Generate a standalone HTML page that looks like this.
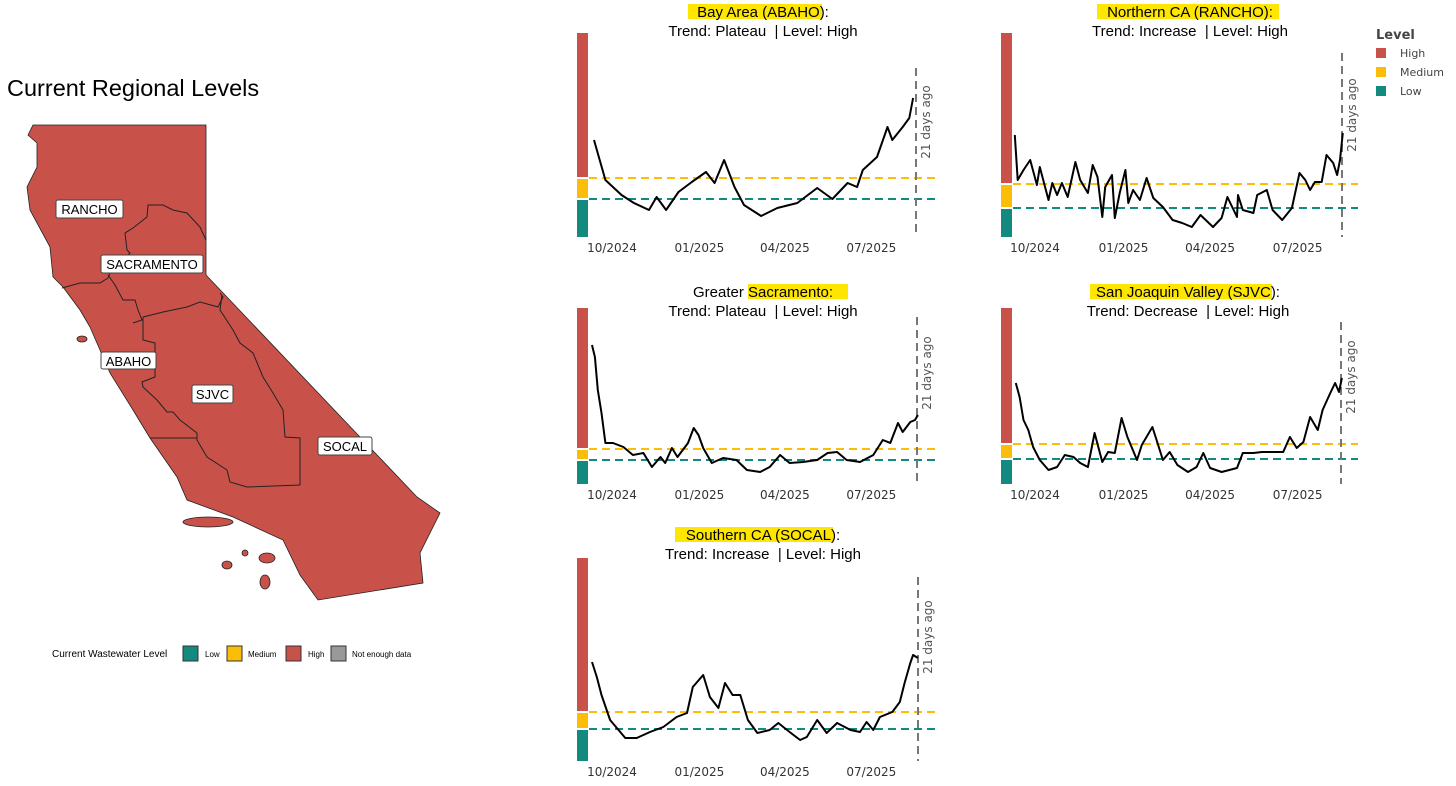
<!DOCTYPE html>
<html><head><meta charset="utf-8">
<style>
html,body{margin:0;padding:0;background:#fff;}
svg{display:block;font-family:"Liberation Sans",Arial,sans-serif;}
.tick{font-family:"DejaVu Sans",sans-serif;font-size:12px;fill:#333;}
.ttl{font-size:15px;fill:#000;}
.maplbl{font-size:13px;fill:#000;}
</style></head>
<body>
<svg id="root" width="1456" height="786" viewBox="0 0 1456 786">
  <text x="7" y="96" font-size="23.5" fill="#000">Current Regional Levels</text>
  <g stroke="#222" stroke-width="0.8" fill="#c8524a">
    <path d="M33,125 L206,125 L206,275 L417,497 L440,513 L420,553 L423,583 L318,600 L300,575 L283,540 L233,517 L187,500 L177,477 L150,438 L133,410 L110,373 L100,350 L90,327 L80,310 L63,287 L53,277 L50,247 L30,210 L27,187 L37,167 L37,143 L28,135 Z"/>
    <ellipse cx="208" cy="522" rx="25" ry="5"/>
    <ellipse cx="82" cy="339" rx="5" ry="3"/>
    <ellipse cx="245" cy="553" rx="3" ry="3"/>
    <ellipse cx="267" cy="558" rx="8" ry="5"/>
    <ellipse cx="227" cy="565" rx="5" ry="4"/>
    <ellipse cx="265" cy="582" rx="5" ry="7"/>
    <g fill="none" stroke="#222" stroke-width="1">
      <polyline points="206,240 200,227 187,213 173,210 163,205 148,205 147,217 133,228 125,233 127,250 130,253 110,273 108,278 100,283 80,283 62,288"/>
      <polyline points="108,275 115,285 123,300 135,300 138,310 142,320 133,323"/>
      <polyline points="143,317 163,312 187,307 200,302 218,307 223,297 220,293"/>
      <polyline points="222,295 220,310 233,330 240,343 253,353 263,377 273,393 283,410 285,437 300,438 300,485 247,487 230,482 227,470 207,457 197,440 197,433"/>
      <polyline points="197,433 180,420 173,412 167,412 157,400 143,387 142,382 155,377 155,343 143,340 143,317"/>
      <polyline points="150,438 197,438"/>
    </g>
  </g>
  <g>
    <g><rect x="56" y="200" width="67" height="18" rx="2" fill="#fff" stroke="#444"/><text class="maplbl" x="89.5" y="214" text-anchor="middle">RANCHO</text></g>
    <g><rect x="101" y="255" width="102" height="18" rx="2" fill="#fff" stroke="#444"/><text class="maplbl" x="152" y="269" text-anchor="middle">SACRAMENTO</text></g>
    <g><rect x="101" y="352" width="55" height="17" rx="2" fill="#fff" stroke="#444"/><text class="maplbl" x="128.5" y="366" text-anchor="middle">ABAHO</text></g>
    <g><rect x="192" y="385" width="41" height="18" rx="2" fill="#fff" stroke="#444"/><text class="maplbl" x="212.5" y="399" text-anchor="middle">SJVC</text></g>
    <g><rect x="318" y="437" width="54" height="18" rx="2" fill="#fff" stroke="#444"/><text class="maplbl" x="345" y="451" text-anchor="middle">SOCAL</text></g>
  </g>
  <g font-size="10">
    <text x="52" y="657">Current Wastewater Level</text>
    <rect x="183" y="646" width="15" height="15" fill="#128a80" stroke="#333"/>
    <text x="205" y="657" font-size="8">Low</text>
    <rect x="227" y="646" width="15" height="15" fill="#fbbd08" stroke="#333"/>
    <text x="248" y="657" font-size="8">Medium</text>
    <rect x="286" y="646" width="15" height="15" fill="#c8524a" stroke="#333"/>
    <text x="308" y="657" font-size="8">High</text>
    <rect x="331" y="646" width="15" height="15" fill="#999" stroke="#333"/>
    <text x="352" y="657" font-size="8">Not enough data</text>
  </g>
  <g font-family="DejaVu Sans, sans-serif">
    <text x="1376" y="39" font-size="13" font-weight="bold" fill="#444">Level</text>
    <rect x="1376" y="48" width="10" height="10" fill="#c8524a"/>
    <text x="1400" y="57" font-size="11" fill="#444">High</text>
    <rect x="1376" y="67" width="10" height="10" fill="#fbbd08"/>
    <text x="1400" y="76" font-size="11" fill="#444">Medium</text>
    <rect x="1376" y="86" width="10" height="10" fill="#128a80"/>
    <text x="1400" y="95" font-size="11" fill="#444">Low</text>
  </g>
  <g id="charts"></g>
</svg>
<script>
// Shared tick data
const tickDays = [0, 92, 182, 273];
const tickLabels = ["10/2024", "01/2025", "04/2025", "07/2025"];
// Bay Area (ABAHO)
const abahoDays = [-19,-7,10,23,39,47,57,70,84,99,108,118,129,139,157,174,195,216,232,248,258,264,279,290,295,306,313,317];
const abahoVals = [97,57,42,34,27,40,27,45,55,65,54,77,50,32,21,29,34,49,38,54,50,67,80,110,97,110,119,139];
const abahoThresholds = [38, 59];
// Northern CA (RANCHO)
const ranchoDays = [-21,-18,-12,-5,2,5,14,18,23,28,34,42,47,55,60,65,70,73,80,83,88,94,97,102,109,116,123,133,143,153,163,172,185,194,200,210,211,216,227,231,241,247,257,267,275,281,286,291,298,303,310,314,317,320];
const ranchoVals = [102,57,67,77,52,70,37,54,42,54,40,75,57,44,72,60,20,50,62,19,44,67,34,47,37,59,39,30,17,14,10,22,10,19,40,20,42,27,24,42,47,27,17,29,64,57,47,55,55,82,74,62,77,104];
const ranchoThresholds = [29, 53];
// Greater Sacramento
const sacDays = [-21,-18,-15,-11,-7,1,12,22,33,42,51,56,63,69,80,86,91,96,105,117,131,142,156,166,177,187,201,216,227,237,247,261,275,285,293,301,306,314,319,322];
const sacVals = [139,127,94,71,41,41,37,29,31,17,27,21,36,27,41,56,49,36,21,26,24,14,12,17,29,21,22,24,31,32,24,22,29,44,41,61,52,62,64,69];
const sacThresholds = [24, 35];
// San Joaquin Valley (SJVC)
const sjvcDays = [-20,-16,-12,-7,-2,5,14,23,31,40,47,55,62,70,76,83,90,96,106,111,122,127,133,140,148,159,168,175,182,194,210,216,227,236,247,258,265,272,279,286,294,299,307,312,316,319];
const sjvcVals = [101,87,64,54,37,24,14,17,29,27,21,17,51,22,32,31,66,47,24,39,57,42,24,32,19,12,17,31,16,12,16,31,31,32,32,32,47,36,42,67,54,74,91,101,92,106];
const sjvcThresholds = [25, 40];
// Southern CA (SOCAL)
const socalDays = [-21,-16,-11,-2,14,26,40,54,68,79,85,96,103,112,119,127,135,143,153,166,175,187,198,205,216,226,237,251,261,268,275,282,295,303,308,314,317,322];
const socalVals = [99,84,66,41,23,23,29,34,44,48,74,86,64,53,78,66,66,41,28,31,38,29,21,24,41,28,38,31,29,39,31,44,49,59,78,98,106,103];
const socalThresholds = [32, 49];

const panels = [
  {id:"abaho", pre:"", hl:"Bay Area (ABAHO)", post:":", trend:"Plateau", cx:763, ty:17, hlx:688, hlw:134, days:abahoDays, vals:abahoVals, th:abahoThresholds, barX:577, top:33, bottom:237, x0:612, k:0.95, lineEnd:937, vx:916, vtop:68, lblY:122, tickY:252},
  {id:"rancho", pre:"", hl:"Northern CA (RANCHO):", post:"", trend:"Increase", cx:1190, ty:17, hlx:1097, hlw:182, days:ranchoDays, vals:ranchoVals, th:ranchoThresholds, barX:1001, top:33, bottom:237, x0:1035, k:0.962, lineEnd:1358, vx:1342, vtop:53, lblY:115, tickY:252},
  {id:"sacramento", pre:"Greater ", hl:"Sacramento:", post:"", trend:"Plateau", cx:763, ty:297, hlx:748, hlw:100, days:sacDays, vals:sacVals, th:sacThresholds, barX:577, top:308, bottom:484, x0:612, k:0.95, lineEnd:937, vx:917, vtop:317, lblY:373, tickY:499},
  {id:"sjvc", pre:"", hl:"San Joaquin Valley (SJVC)", post:":", trend:"Decrease", cx:1188, ty:297, hlx:1090, hlw:182, days:sjvcDays, vals:sjvcVals, th:sjvcThresholds, barX:1001, top:308, bottom:484, x0:1035, k:0.962, lineEnd:1358, vx:1341, vtop:322, lblY:377, tickY:499},
  {id:"socal", pre:"", hl:"Southern CA (SOCAL)", post:":", trend:"Increase", cx:763, ty:540, hlx:675, hlw:158, days:socalDays, vals:socalVals, th:socalThresholds, barX:577, top:558, bottom:761, x0:612, k:0.95, lineEnd:937, vx:918, vtop:577, lblY:637, tickY:776}
];
const NS = "http://www.w3.org/2000/svg";
const root = document.getElementById("charts");
function mk(tag, attrs, parent){ const e=document.createElementNS(NS,tag); for(const a in attrs) e.setAttribute(a,attrs[a]); parent.appendChild(e); return e; }

panels.forEach(p => {
  const g = mk("g", {}, root);
  
  
  const xs = d => p.x0 + d * p.k;
  const ys = v => p.bottom - v;
  const hr = mk("rect", {x:p.hlx, y:p.ty-13, width:p.hlw, height:15, fill:"#ffe600"}, g);
  
  
  const t1 = mk("text", {x:p.cx, y:p.ty, "text-anchor":"middle", class:"ttl"}, g);
  
  
  t1.textContent = p.pre + p.hl + p.post;
  const t2 = mk("text", {x:p.cx, y:p.ty+19, "text-anchor":"middle", class:"ttl"}, g);
  
  
  t2.textContent = "Trend: " + p.trend + "  | Level: High";
  t2.style.whiteSpace = "pre";
  const yl = ys(p.th[0]), ym = ys(p.th[1]);
  const rb = mk("rect", {x:p.barX, y:p.top, width:11, height:ym-1-p.top, fill:"#c8524a"}, g);
  
  
  const yb = mk("rect", {x:p.barX, y:ym+1, width:11, height:yl-ym-2, fill:"#fbbd08"}, g);
  
  
  const tb = mk("rect", {x:p.barX, y:yl+1, width:11, height:p.bottom-yl-1, fill:"#128a80"}, g);
  
  
  const ml = mk("line", {x1:p.barX+12, x2:p.lineEnd, y1:ym, y2:ym, stroke:"#fbbd08", "stroke-width":2, "stroke-dasharray":"8,5"}, g);
  
  
  const ll = mk("line", {x1:p.barX+12, x2:p.lineEnd, y1:yl, y2:yl, stroke:"#128a80", "stroke-width":2, "stroke-dasharray":"8,5"}, g);
  
  
  const vl = mk("line", {x1:p.vx, x2:p.vx, y1:p.vtop, y2:p.bottom, stroke:"#777", "stroke-width":2, "stroke-dasharray":"8,5"}, g);
  
  
  const vt = mk("text", {x:0, y:0, transform:"translate("+(p.vx+14)+","+p.lblY+") rotate(-90)", "text-anchor":"middle", "font-family":"DejaVu Sans, sans-serif", "font-size":"12", fill:"#555"}, g);
  
  
  vt.textContent = "21 days ago";
  tickDays.forEach((d,i) => {
    const tt = mk("text", {x:xs(d), y:p.tickY, "text-anchor":"middle", class:"tick"}, g);
    
    
    tt.textContent = tickLabels[i];
  });
  const pts = p.days.map((d,i) => xs(d).toFixed(1) + "," + ys(p.vals[i]).toFixed(1)).join(" ");
  const pl = mk("polyline", {points:pts, fill:"none", stroke:"#000", "stroke-width":2, "stroke-linejoin":"round"}, g);
  
  
});
</script>
</body></html>
